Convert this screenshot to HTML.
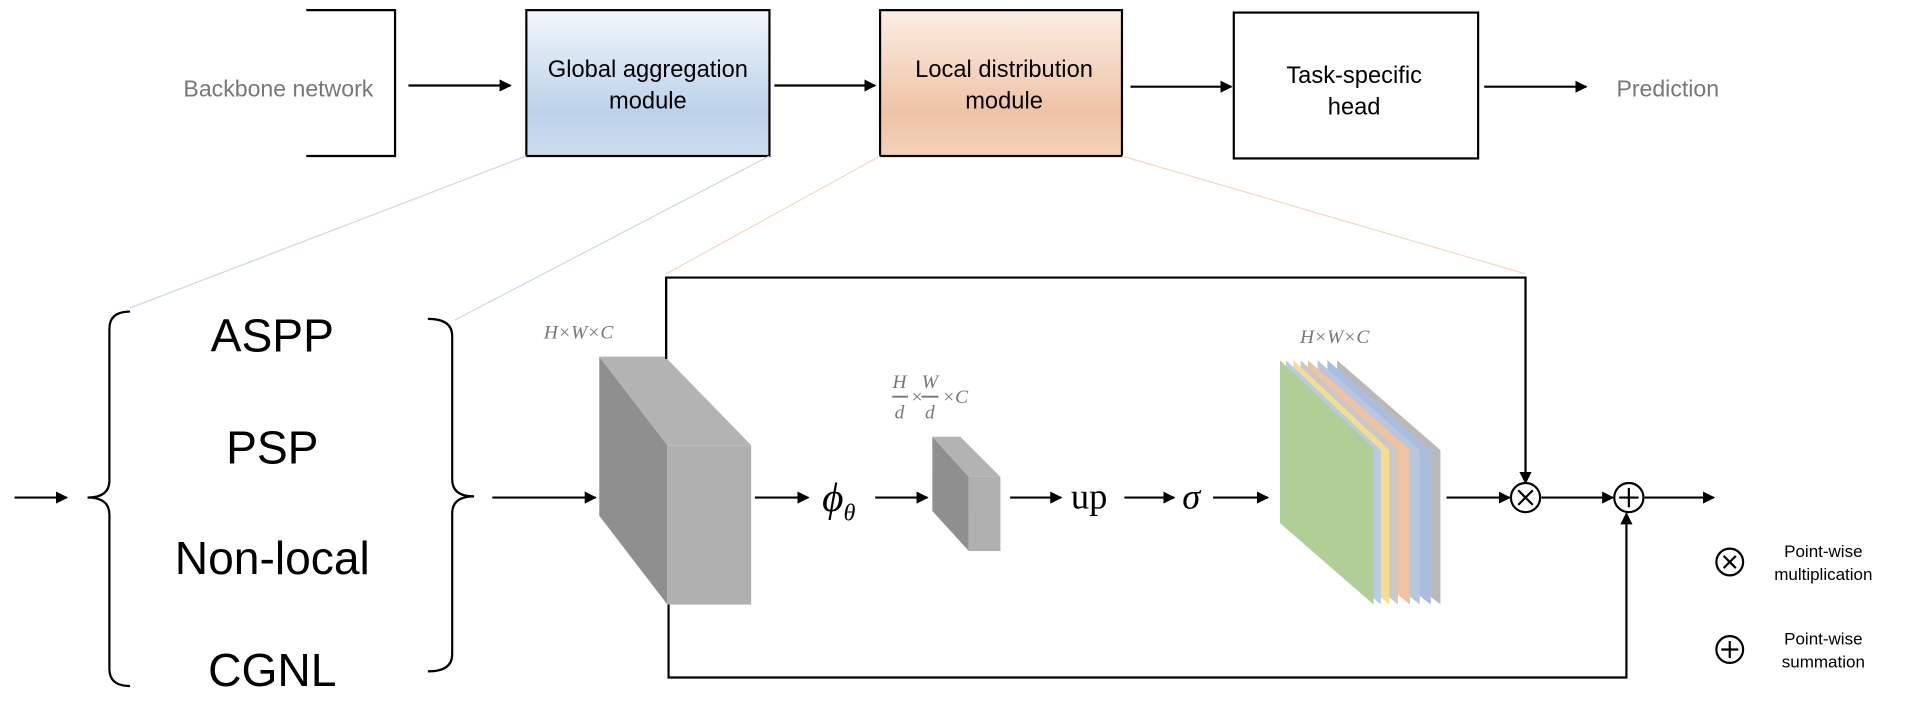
<!DOCTYPE html>
<html><head><meta charset="utf-8"><style>
html,body{margin:0;padding:0;background:#fff;}
svg{display:block;}
text{font-family:"Liberation Sans",sans-serif;}
.s{font-family:"Liberation Serif",serif;}
</style></head><body>
<svg width="1906" height="718" viewBox="0 0 1568 590" xmlns="http://www.w3.org/2000/svg">
<defs>
<linearGradient id="gb" x1="0" y1="0" x2="0" y2="1"><stop offset="0" stop-color="#f2f6fb"/><stop offset="0.7" stop-color="#bcd2ea"/><stop offset="1" stop-color="#cddcee"/></linearGradient>
<linearGradient id="go" x1="0" y1="0" x2="0" y2="1"><stop offset="0" stop-color="#fbeee4"/><stop offset="0.7" stop-color="#efc3a5"/><stop offset="1" stop-color="#f3d1bb"/></linearGradient>
<marker id="a" markerWidth="10" markerHeight="10" refX="9" refY="5" orient="auto" markerUnits="userSpaceOnUse"><path d="M0,0 L10,5 L0,10 z" fill="#000"/></marker>
</defs>
<g stroke="#000" stroke-width="1.8" fill="none">
<path d="M252,8 H325 V128 H252"/>
<line x1="336" y1="70" x2="420" y2="70" marker-end="url(#a)"/>
<line x1="637" y1="70" x2="720" y2="70" marker-end="url(#a)"/>
<line x1="930" y1="71" x2="1013" y2="71" marker-end="url(#a)"/>
<line x1="1221" y1="71" x2="1305" y2="71" marker-end="url(#a)"/>
</g>
<rect x="433" y="8" width="200" height="120" fill="url(#gb)" stroke="#000" stroke-width="1.8"/>
<rect x="724" y="8" width="199" height="120" fill="url(#go)" stroke="#000" stroke-width="1.8"/>
<rect x="1015" y="10" width="201" height="120" fill="#fff" stroke="#000" stroke-width="1.8"/>
<text x="229" y="79" font-size="19" fill="#777" text-anchor="middle">Backbone network</text>
<text x="533" y="63" font-size="19.5" text-anchor="middle">Global aggregation</text>
<text x="533" y="89" font-size="19.5" text-anchor="middle">module</text>
<text x="826" y="63" font-size="19.5" text-anchor="middle">Local distribution</text>
<text x="826" y="89" font-size="19.5" text-anchor="middle">module</text>
<text x="1114" y="68" font-size="19.5" text-anchor="middle">Task-specific</text>
<text x="1114" y="94" font-size="19.5" text-anchor="middle">head</text>
<text x="1372" y="79" font-size="19" fill="#777" text-anchor="middle">Prediction</text>
<g stroke-width="1">
<line x1="433" y1="128" x2="107" y2="253" stroke="#c9d7ec"/>
<line x1="633" y1="128" x2="374" y2="263" stroke="#c9d7ec"/>
<line x1="724" y1="128" x2="548" y2="225" stroke="#f5d6c2"/>
<line x1="923" y1="128" x2="1255" y2="225" stroke="#f5d6c2"/>
</g>
<g stroke="#000" stroke-width="1.8" fill="none">
<path d="M107,256 Q90,256 90,270 V395 Q90,409 72,409 Q90,409 90,423 V550 Q90,564 107,564"/>
<path d="M352,262 Q372,262 372,276 V394 Q372,408 390,408 Q372,408 372,422 V538 Q372,552 352,552"/>
<line x1="12" y1="409" x2="55" y2="409" marker-end="url(#a)"/>
<line x1="405" y1="409" x2="490" y2="409" marker-end="url(#a)"/>
<path d="M548,295 V228 H1255 V397" marker-end="url(#a)"/>
<path d="M550,497 V557 H1338 V422" marker-end="url(#a)"/>
<line x1="621" y1="409" x2="665" y2="409" marker-end="url(#a)"/>
<line x1="720" y1="409" x2="763" y2="409" marker-end="url(#a)"/>
<line x1="831" y1="409" x2="873" y2="409" marker-end="url(#a)"/>
<line x1="925" y1="409" x2="966" y2="409" marker-end="url(#a)"/>
<line x1="998" y1="409" x2="1043" y2="409" marker-end="url(#a)"/>
<line x1="1190" y1="409" x2="1242" y2="409" marker-end="url(#a)"/>
<line x1="1268" y1="409" x2="1327" y2="409" marker-end="url(#a)"/>
<line x1="1353" y1="409" x2="1410" y2="409" marker-end="url(#a)"/>
<circle cx="1255" cy="409" r="12"/><path d="M1249,403 L1261,415 M1261,403 L1249,415"/>
<circle cx="1340" cy="409" r="12"/><path d="M1340,401 V417 M1332,409 H1348"/>
<circle cx="1423" cy="462" r="11"/><path d="M1418,457 L1428,467 M1428,457 L1418,467"/>
<circle cx="1423" cy="534" r="11"/><path d="M1423,527 V541 M1416,534 H1430"/>
</g>
<text x="224" y="289" font-size="38" text-anchor="middle">ASPP</text>
<text x="224" y="381" font-size="38" text-anchor="middle">PSP</text>
<text x="224" y="472" font-size="38" text-anchor="middle">Non-local</text>
<text x="224" y="564" font-size="38" text-anchor="middle">CGNL</text>
<polygon points="493,293 549,366 549,497 493,424" fill="#8f8f8f"/>
<polygon points="493,293 547,293 618,366 549,366" fill="#b3b3b3"/>
<rect x="549" y="366" width="69" height="131" fill="#b0b0b0"/>
<line x1="548" y1="228" x2="548" y2="295" stroke="#000" stroke-width="1.8"/>
<polygon points="767,359 797,392 797,453 767,420" fill="#8f8f8f"/>
<polygon points="767,359 790,359 823,392 797,392" fill="#b3b3b3"/>
<rect x="797" y="392" width="26" height="61" fill="#b0b0b0"/>
<g>
<polygon points="1100,296 1185,370 1185,497 1100,430" fill="#a8a8a8" opacity="0.8"/>
<polygon points="1092,296 1177,370 1177,497 1092,430" fill="#a9bedf"/>
<polygon points="1084,296 1168,370 1168,497 1084,430" fill="#b8c7de"/>
<polygon points="1076,296 1160,370 1160,497 1076,430" fill="#f0c2a0"/>
<polygon points="1070,296 1150,370 1150,497 1070,430" fill="#c8c8c8"/>
<polygon points="1064,296 1143,370 1143,497 1064,430" fill="#f5dc8e"/>
<polygon points="1058,296 1136,370 1136,497 1058,430" fill="#b8cbe6"/>
<polygon points="1053,296 1130,368 1130,497 1053,430" fill="#b0cf96"/>
</g>
<text x="690" y="420" font-size="34" class="s" font-style="italic" text-anchor="middle">ϕ<tspan font-size="20" dy="8">θ</tspan></text>
<text x="896" y="418" font-size="30" class="s" text-anchor="middle">up</text>
<text x="980" y="418" font-size="30" class="s" font-style="italic" text-anchor="middle">σ</text>
<g fill="#777" font-size="16" class="s" font-style="italic">
<text x="476" y="278" text-anchor="middle" class="s">H×W×C</text>
<text x="1098" y="282" text-anchor="middle" class="s">H×W×C</text>
<text x="740" y="319" text-anchor="middle" class="s">H</text>
<text x="740" y="344" text-anchor="middle" class="s">d</text>
<text x="750" y="331" class="s" font-style="normal">×</text>
<text x="765" y="319" text-anchor="middle" class="s">W</text>
<text x="765" y="344" text-anchor="middle" class="s">d</text>
<text x="775" y="331" class="s">×C</text>
</g>
<line x1="734" y1="326" x2="747" y2="326" stroke="#777" stroke-width="1.5"/>
<line x1="758" y1="326" x2="772" y2="326" stroke="#777" stroke-width="1.5"/>
<text x="1500" y="458" font-size="14" text-anchor="middle">Point-wise</text>
<text x="1500" y="477" font-size="14" text-anchor="middle">multiplication</text>
<text x="1500" y="530" font-size="14" text-anchor="middle">Point-wise</text>
<text x="1500" y="549" font-size="14" text-anchor="middle">summation</text>
</svg>
</body></html>
